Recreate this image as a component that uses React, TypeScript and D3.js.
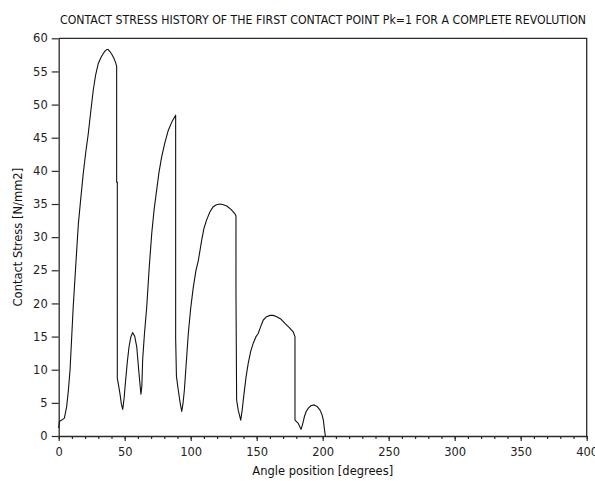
import React, { useEffect, useRef } from 'react';
import * as d3 from 'd3';

const angle = [0, 0.5, 2.3, 4.3, 6, 7.3, 8.6, 11, 13, 14.9, 16.8, 18.6, 20.5, 22.4, 24.3, 26.2, 28, 30, 32, 33.8, 35.2, 36.4, 37.5, 38.8, 40.2, 41.8, 43, 43.9, 43.9, 44.4, 44.4, 45.4, 46.4, 47.5, 48.5, 49.6, 50.7, 52, 53.3, 54.6, 56, 57.5, 59.1, 60.8, 62.3, 63.0, 63.6, 65, 66.7, 68.6, 70.5, 72.3, 74.2, 76, 78, 80.5, 83, 86, 88.6, 88.6, 89.2, 90.6, 92, 93.2, 94.1, 95.2, 96.7, 98.2, 100, 102, 104, 105.8, 108.3, 110, 112.1, 114.5, 117.1, 119.5, 122.2, 124.8, 127.3, 130.5, 133.6, 134.3, 134.3, 134.8, 136, 137.9, 139, 140.4, 142, 143.6, 145.5, 147.4, 149.5, 151.2, 153, 155, 157.5, 160.1, 162.5, 165.2, 168.5, 171.4, 174.5, 177.7, 179, 179, 181.5, 183.6, 184.8, 186.1, 187.5, 189.1, 191.3, 193.6, 196, 198, 199.5, 200.5, 201.2, 202];
const stress = [1.2, 2.2, 2.4, 2.7, 4.4, 6.8, 10, 19.5, 26, 32, 36, 39.6, 42.8, 45.6, 49, 52.2, 54.5, 56.2, 57.1, 57.7, 58.1, 58.3, 58.3, 58.0, 57.6, 57.0, 56.4, 55.8, 38.3, 38.3, 8.7, 7.6, 6.4, 4.8, 4.0, 5.8, 8.4, 11.2, 13.5, 14.9, 15.6, 15.1, 13.5, 9.5, 6.3, 7.5, 11.5, 15.5, 19.5, 25.5, 30.6, 34.2, 37.1, 39.8, 42.1, 44.3, 46.1, 47.5, 48.4, 14.7, 9, 6.9, 5.0, 3.7, 4.8, 6.9, 11.2, 15.5, 19.3, 22.5, 25, 26.5, 29.5, 31.3, 32.6, 33.8, 34.6, 34.9, 35.0, 34.9, 34.7, 34.2, 33.5, 33.2, 21.5, 5.4, 3.9, 2.4, 3.9, 6.4, 9, 11, 12.8, 14, 15, 15.5, 16.5, 17.5, 18.0, 18.2, 18.2, 18.0, 17.6, 17.0, 16.4, 15.7, 15.0, 2.4, 1.9, 1.0, 1.8, 2.9, 3.7, 4.2, 4.6, 4.7, 4.4, 3.9, 3.2, 2.4, 1.2, 0];

const xMajor = [0, 50, 100, 150, 200, 250, 300, 350, 400];
const yMajor = [0, 5, 10, 15, 20, 25, 30, 35, 40, 45, 50, 55, 60];

const W = 595, H = 481;
const left = 58.7, right = 586.7, top = 38.3, bottom = 436;

export default function App() {
  const ref = useRef<SVGSVGElement>(null);

  useEffect(() => {
    const svg = d3.select(ref.current);
    svg.selectAll('*').remove();

    const x = d3.scaleLinear().domain([0, 400]).range([left, right]);
    const y = d3.scaleLinear().domain([0, 60]).range([bottom, top]);
    const font = 'DejaVu Sans, Verdana, sans-serif';
    const ink = '#2a2a2a';

    // frame (top + right)
    svg.append('path')
      .attr('d', `M${left},${top}H${right}V${bottom}`)
      .attr('fill', 'none').attr('stroke', ink).attr('stroke-width', 1.3);

    // minor x ticks
    const minor = svg.append('g').attr('transform', `translate(0,${bottom})`)
      .call(d3.axisBottom(x).tickValues(d3.range(0, 401, 10)).tickSize(3).tickFormat(() => ''));
    minor.select('.domain').remove();

    const xa = svg.append('g').attr('transform', `translate(0,${bottom})`)
      .call(d3.axisBottom(x).tickValues(xMajor).tickSize(5).tickSizeOuter(0).tickPadding(7));
    const ya = svg.append('g').attr('transform', `translate(${left},0)`)
      .call(d3.axisLeft(y).tickValues(yMajor).tickSize(7).tickSizeOuter(0).tickPadding(4));

    [xa, ya, minor].forEach(g => {
      g.selectAll('line').attr('stroke', ink).attr('stroke-width', 1.2);
      g.selectAll('.domain').attr('stroke', ink).attr('stroke-width', 1.3);
      g.selectAll('text').attr('fill', '#222').style('font-family', font).style('font-size', '11.5px');
    });

    const line = d3.line<number>().x((d, i) => x(angle[i])).y(d => y(d));
    svg.append('path')
      .datum(stress)
      .attr('d', line)
      .attr('fill', 'none').attr('stroke', '#111').attr('stroke-width', 1.1)
      .attr('stroke-linejoin', 'round');

    svg.append('text')
      .attr('x', 60).attr('y', 24)
      .attr('textLength', 526).attr('lengthAdjust', 'spacingAndGlyphs')
      .style('font-family', font).style('font-size', '12.5px').attr('fill', '#111')
      .text('CONTACT STRESS HISTORY OF THE FIRST CONTACT POINT Pk=1 FOR A COMPLETE REVOLUTION');

    svg.append('text')
      .attr('x', (left + right) / 2).attr('y', 475)
      .attr('text-anchor', 'middle')
      .style('font-family', font).style('font-size', '11.5px').attr('fill', '#111')
      .text('Angle position [degrees]');

    svg.append('text')
      .attr('transform', `translate(22,${(top + bottom) / 2}) rotate(-90)`)
      .attr('text-anchor', 'middle')
      .style('font-family', font).style('font-size', '11.5px').attr('fill', '#111')
      .text('Contact Stress [N/mm2]');
  }, []);

  return (
    <svg ref={ref} width={W} height={H} style={{ position: 'absolute', left: 0, top: 0, background: '#fff' }} />
  );
}
